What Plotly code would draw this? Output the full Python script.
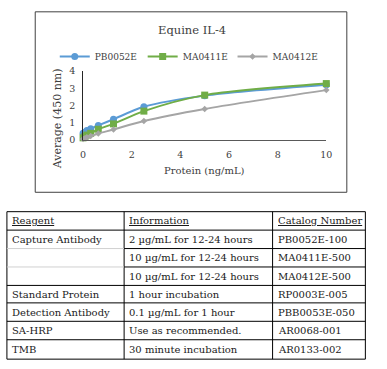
import plotly.graph_objects as go

W, H = 387, 369

protein = [0, 0.078, 0.156, 0.3125, 0.625, 1.25, 2.5, 5, 10]
pb0052e = [0.38, 0.45, 0.55, 0.65, 0.84, 1.2, 1.92, 2.57, 3.2]
ma0411e = [0.12, 0.2, 0.28, 0.38, 0.62, 0.93, 1.67, 2.6, 3.27]
ma0412e = [0.05, 0.1, 0.15, 0.22, 0.37, 0.6, 1.1, 1.8, 2.89]

series_names = ["PB0052E", "MA0411E", "MA0412E"]
x_ticks = [0, 2, 4, 6, 8, 10]
y_ticks = [0, 1, 2, 3, 4]

table_header = ["Reagent", "Information", "Catalog Number"]
col_reagent = ["Capture Antibody", "", "", "Standard Protein", "Detection Antibody", "SA-HRP", "TMB"]
col_info = ["2 µg/mL for 12-24 hours", "10 µg/mL for 12-24 hours", "10 µg/mL for 12-24 hours",
            "1 hour incubation", "0.1 µg/mL for 1 hour", "Use as recommended.", "30 minute incubation"]
col_catalog = ["PB0052E-100", "MA0411E-500", "MA0412E-500", "RP0003E-005", "PBB0053E-050",
               "AR0068-001", "AR0133-002"]

FONT = "DejaVu Serif"
TXT = "#404040"

def px(x):
    return x / W

def py(y):
    return 1 - y / H

fig = go.Figure()
styles = [
    dict(color="#5B9BD5", symbol="circle", size=7),
    dict(color="#70AD47", symbol="square", size=7),
    dict(color="#A5A5A5", symbol="diamond", size=5),
]
legends = ["legend", "legend2", "legend3"]
for name, vals, st, lg in zip(series_names, [pb0052e, ma0411e, ma0412e], styles, legends):
    fig.add_trace(go.Scatter(
        x=protein, y=vals, name=name, mode="lines+markers",
        line=dict(color=st["color"], width=2, shape="spline", smoothing=0.8),
        marker=dict(color=st["color"], symbol=st["symbol"], size=st["size"]),
        cliponaxis=False, legend=lg,
    ))

leg_common = dict(orientation="h", yanchor="middle", xanchor="left",
                  font=dict(family=FONT, size=9, color=TXT),
                  bgcolor="rgba(0,0,0,0)", borderwidth=0, itemwidth=30)
leg_x = [53, 143, 235]
fig.update_layout(
    legend=dict(x=px(leg_x[0]), y=py(52), **leg_common),
    legend2=dict(x=px(leg_x[1]), y=py(52), **leg_common),
    legend3=dict(x=px(leg_x[2]), y=py(52), **leg_common),
)

fig.update_layout(
    width=W, height=H,
    margin=dict(l=0, r=0, t=0, b=0),
    paper_bgcolor="white", plot_bgcolor="white",
    showlegend=True,
    xaxis=dict(domain=[px(82), px(331)], range=[0, 10], tickvals=x_ticks,
               showgrid=False, zeroline=False, showline=True, linecolor="#595959",
               linewidth=1, ticks="outside", ticklen=6, tickcolor="rgba(0,0,0,0)",
               tickfont=dict(family=FONT, size=9.5, color=TXT)),
    yaxis=dict(domain=[py(138), py(67)], range=[0, 4], tickvals=y_ticks,
               showgrid=False, zeroline=False, showline=True, linecolor="#262626",
               linewidth=1, ticks="outside", ticklen=5, tickcolor="rgba(0,0,0,0)",
               tickfont=dict(family=FONT, size=9.5, color=TXT)),
)

shapes = []
annotations = []
shapes.append(dict(type="rect", xref="paper", yref="paper",
                   x0=px(33), x1=px(352), y0=py(192), y1=py(6),
                   line=dict(color="#404040", width=1)))
ctr = dict(xref="paper", yref="paper", xanchor="center", yanchor="middle", showarrow=False)
annotations.append(dict(text="Equine IL-4", x=px(193), y=py(25),
                        font=dict(family=FONT, size=11.5, color=TXT), **ctr))
annotations.append(dict(text="Protein (ng/mL)", x=px(206), y=py(170),
                        font=dict(family=FONT, size=10, color=TXT), **ctr))
annotations.append(dict(text="Average (450 nm)", x=px(56), y=py(116), textangle=-90,
                        font=dict(family=FONT, size=11, color=TXT), **ctr))

col_x = [4, 124, 276, 371]
row_y = [212, 231, 250, 269, 288, 306, 325, 344, 364]
blk = dict(color="black", width=1)
for cx in col_x:
    shapes.append(dict(type="line", xref="paper", yref="paper", x0=px(cx), x1=px(cx),
                       y0=py(row_y[0]), y1=py(row_y[-1]), line=blk))
for i, ry in enumerate(row_y):
    if i in (2, 3):
        shapes.append(dict(type="line", xref="paper", yref="paper", x0=px(col_x[0]), x1=px(col_x[1]),
                           y0=py(ry), y1=py(ry), line=dict(color="#D0D0D0", width=1)))
        shapes.append(dict(type="line", xref="paper", yref="paper", x0=px(col_x[1]), x1=px(col_x[3]),
                           y0=py(ry), y1=py(ry), line=blk))
    else:
        shapes.append(dict(type="line", xref="paper", yref="paper", x0=px(col_x[0]), x1=px(col_x[3]),
                           y0=py(ry), y1=py(ry), line=blk))

tfont = dict(family=FONT, size=10, color="#1a1a1a")
for j, h in enumerate(table_header):
    annotations.append(dict(text="<u>" + h + "</u>", x=px(col_x[j] + 3), y=py((row_y[0] + row_y[1]) / 2),
                            xref="paper", yref="paper", xanchor="left", yanchor="middle",
                            showarrow=False, font=tfont))
for i in range(len(col_reagent)):
    yc = py((row_y[i + 1] + row_y[i + 2]) / 2)
    for j, col in enumerate([col_reagent, col_info, col_catalog]):
        if col[i]:
            annotations.append(dict(text=col[i], x=px(col_x[j] + 3), y=yc, xref="paper", yref="paper",
                                    xanchor="left", yanchor="middle", showarrow=False, font=tfont))

fig.update_layout(shapes=shapes, annotations=annotations)
fig.write_html("out.html", config={"displayModeBar": False},
               post_script="document.body.style.margin='0';document.body.style.overflow='hidden';")
